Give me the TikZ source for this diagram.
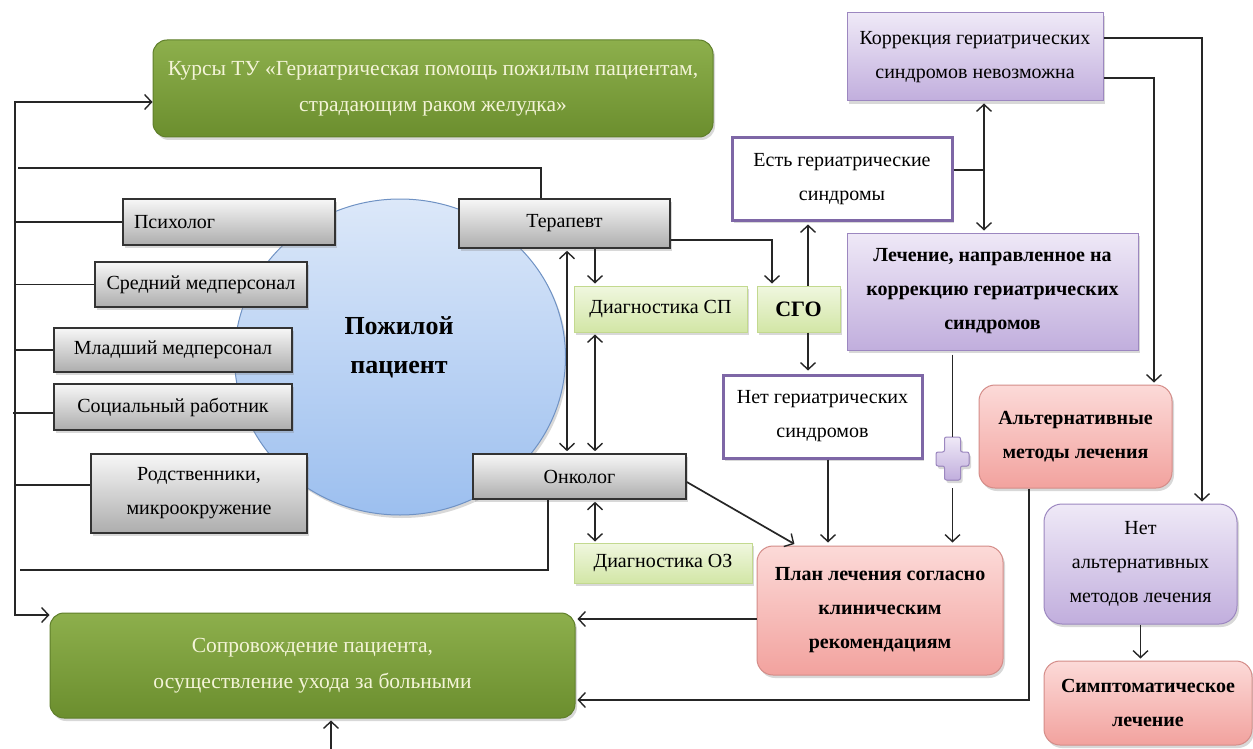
\documentclass[tikz,border=0pt]{standalone}
\usepackage{fontspec}
\setmainfont{Liberation Serif}
\usetikzlibrary{arrows.meta,shapes.geometric,shadows}
\definecolor{gtop}{HTML}{8DAF4C}
\definecolor{gbot}{HTML}{6B8E2E}
\definecolor{gbrd}{HTML}{5F7F2A}
\definecolor{gtxt}{HTML}{F4F4D8}
\definecolor{grtop}{HTML}{F7F7F7}
\definecolor{grbot}{HTML}{ADADAD}
\definecolor{lgtop}{HTML}{F0F7DF}
\definecolor{lgbot}{HTML}{D2E6A6}
\definecolor{lgbrd}{HTML}{C3D98F}
\definecolor{putop}{HTML}{EFE9F7}
\definecolor{pubot}{HTML}{C1AEDD}
\definecolor{pubrd}{HTML}{9C87C0}
\definecolor{pudark}{HTML}{7E67A6}
\definecolor{pktop}{HTML}{FCDAD8}
\definecolor{pkbot}{HTML}{F2A29E}
\definecolor{pkbrd}{HTML}{D48C88}
\definecolor{cbtop}{HTML}{DCE8F9}
\definecolor{cbbot}{HTML}{9CBFEF}
\definecolor{cbbrd}{HTML}{6F92C4}
\newcommand\myfs{\fontsize{20}{34}\selectfont}
\begin{document}
\begin{tikzpicture}[x=1pt,y=-1pt,
  every node/.style={inner sep=0pt, align=center, font=\myfs},
  shad/.style={drop shadow={opacity=0.3, shadow xshift=2pt, shadow yshift=-3pt}},
  greenbox/.style={draw=gbrd, line width=1pt, rounded corners=14pt, top color=gtop, bottom color=gbot, text=gtxt, font=\fontsize{21.5}{36}\selectfont, shad},
  graybox/.style={draw=black!80, line width=1.6pt, top color=grtop, bottom color=grbot, shad},
  lgbox/.style={draw=lgbrd, line width=1pt, top color=lgtop, bottom color=lgbot, shad},
  pubox/.style={draw=pubrd, line width=1pt, top color=putop, bottom color=pubot, shad},
  wpbox/.style={draw=pudark, line width=3pt, fill=white, shad},
  pkbox/.style={draw=pkbrd, line width=1pt, rounded corners=16pt, top color=pktop, bottom color=pkbot, shad},
  ln/.style={draw=black!85, line width=1.7pt},
  arr/.style={ln, -{Straight Barb[length=7pt,width=15pt,line width=1.4pt]}},
  dbl/.style={ln, {Straight Barb[length=7pt,width=15pt,line width=1.4pt]}-{Straight Barb[length=7pt,width=15pt,line width=1.4pt]}}
]
\useasboundingbox (0,0) rectangle (1253,749);
\fill[white] (0,0) rectangle (1253,749);

% patient circle
\node[ellipse, draw=cbbrd, line width=1pt, top color=cbtop, bottom color=cbbot, minimum width=331pt, minimum height=316pt, shad] (pat) at (400,357) {};
\node[font=\fontsize{26}{39}\selectfont\bfseries] (patlbl) at (399,347) {Пожилой\\пациент};

% green boxes
\node[greenbox, minimum width=560pt, minimum height=97pt] (kursy) at (433,88.5) {Курсы ТУ «Гериатрическая помощь пожилым пациентам,\\страдающим раком желудка»};
\node[greenbox, minimum width=525pt, minimum height=105pt] (soprov) at (312.5,665.5) {Сопровождение пациента,\\осуществление ухода за больными};

% gray boxes
\node[graybox, minimum width=212pt, minimum height=46pt, text width=190pt, align=left] (psy) at (229,222) {Психолог};
\node[graybox, minimum width=212pt, minimum height=45pt] (sred) at (201,284.5) {Средний медперсонал};
\node[graybox, minimum width=238pt, minimum height=44pt] (mlad) at (173,350) {Младший медперсонал};
\node[graybox, minimum width=238pt, minimum height=46pt] (soc) at (173,407) {Социальный работник};
\node[graybox, minimum width=216pt, minimum height=79pt] (rod) at (199,493.5) {Родственники,\\микроокружение};
\node[graybox, minimum width=211pt, minimum height=49pt] (ter) at (564.5,223.5) {Терапевт};
\node[graybox, minimum width=213pt, minimum height=45pt] (onk) at (579.5,476.5) {Онколог};

% light green boxes
\node[lgbox, minimum width=173pt, minimum height=46pt] (dsp) at (660.5,309) {Диагностика СП};
\node[lgbox, minimum width=83pt, minimum height=46pt, font=\fontsize{22}{34}\selectfont\bfseries] (sgo) at (798.5,309) {СГО};
\node[lgbox, minimum width=178pt, minimum height=40pt] (dozl) at (663,563) {Диагностика ОЗ};

% purple-bordered white boxes
\node[wpbox, minimum width=220pt, minimum height=82pt] (est) at (842,179) {Есть гериатрические\\синдромы};
\node[wpbox, minimum width=199pt, minimum height=83pt] (net) at (822.5,416.5) {Нет гериатрических\\синдромов};

% purple boxes
\node[pubox, minimum width=256pt, minimum height=88pt] (korr) at (975,57) {Коррекция гериатрических\\синдромов невозможна};
\node[pubox, minimum width=291pt, minimum height=117pt, font=\myfs\bfseries] (lech) at (992.5,291.5) {Лечение, направленное на\\коррекцию гериатрических\\синдромов};
\node[pubox, rounded corners=18pt, minimum width=193pt, minimum height=120pt] (netalt) at (1140.5,564) {Нет\\альтернативных\\методов лечения};

% pink boxes
\node[pkbox, minimum width=193pt, minimum height=103pt, font=\myfs\bfseries] (alt) at (1075.5,436.5) {Альтернативные\\методы лечения};
\node[pkbox, minimum width=246pt, minimum height=129pt, font=\myfs\bfseries] (plan) at (880,610.5) {План лечения согласно\\клиническим\\рекомендациям};
\node[pkbox, minimum width=208pt, minimum height=84pt, font=\myfs\bfseries] (simp) at (1148,703) {Симптоматическое\\лечение};

% plus sign
\node[minimum width=33pt, minimum height=43pt] (plus) at (952.5,458.5) {};
\filldraw[draw=pubrd, line width=1pt, top color=putop, bottom color=pubot, rounded corners=2pt, shad]
  (944.5,437) -- (960.5,437) -- (960.5,452) -- (969,452) -- (969,466) -- (960.5,466) -- (960.5,480)
  -- (944.5,480) -- (944.5,466) -- (936,466) -- (936,452) -- (944.5,452) -- cycle;

% left trunk
\coordinate (L1) at (15,102);
\coordinate (L2) at (15,615);
\draw[dbl] (L1 -| kursy.west) -- (L1) -- (L2) -- (L2 -| soprov.west);
\coordinate (T0) at (18,168);
\coordinate (T1) at (541,168);
\draw[ln] (T0) -- (T1) -- (T1 |- ter.north);
\draw[ln] (L1 |- psy.west) -- (psy.west);
\draw[ln] (L1 |- sred.west) -- (sred.west);
\draw[ln] (L1 |- mlad.west) -- (mlad.west);
\draw[ln] (13,413) -- (soc.west |- 0,413);
\draw[ln] (L1 |- 0,485) -- (rod.west |- 0,485);
\coordinate (O1) at (548,570);
\coordinate (O0) at (20,570);
\draw[ln] (O1 |- onk.south) -- (O1) -- (O0);

% therapist / oncologist
\draw[dbl, shorten <=2pt, shorten >=2pt] (ter.south -| 567,0) -- (onk.north -| 567,0);
\draw[arr, shorten >=2pt] (ter.south -| 595,0) -- (dsp.north -| 595,0);
\draw[dbl, shorten <=2pt, shorten >=2pt] (dsp.south -| 595,0) -- (onk.north -| 595,0);
\draw[dbl, shorten <=2pt, shorten >=1pt] (onk.south -| 595,0) -- (dozl.north -| 595,0);
\draw[arr, shorten >=2pt] (ter.east |- 0,240) -- (772,240) -- (sgo.north -| 772,0);

% CGA branches
\draw[arr, shorten >=3pt] (sgo.north -| 808,0) -- (est.south -| 808,0);
\draw[arr, shorten >=3pt] (sgo.south -| 808,0) -- (net.north -| 808,0);
\draw[ln] (est.east |- 0,170) -- (984,170);
\draw[dbl, shorten <=2pt, shorten >=2pt] (korr.south -| 984,0) -- (lech.north -| 984,0);
\draw[arr, shorten >=2pt] (korr.east |- 0,38) -- (1202,38) -- (netalt.north -| 1202,0);
\draw[arr, shorten >=2pt] (korr.east |- 0,78) -- (1154,78) -- (alt.north -| 1154,0);
\draw[ln, shorten <=4pt] (lech.south -| plus.north) -- (plus.north);
\draw[arr, shorten <=8pt, shorten >=3pt] (plus.south) -- (plan.north -| plus.south);
\draw[arr, shorten >=3pt] (net.south -| 828,0) -- (plan.north -| 828,0);
\draw[arr, shorten >=3pt] (onk.east |- 0,482) -- (plan.north -| 797,0);

% to follow-up care
\draw[arr, shorten >=2pt] (plan.west |- 0,619) -- (soprov.east |- 0,619);
\coordinate (A1) at (1029,700);
\draw[arr, shorten >=2pt] (A1 |- alt.south) -- (A1) -- (soprov.east |- A1);
\draw[arr, shorten >=2pt] (netalt.south) -- (netalt.south |- simp.north);
\coordinate (B0) at (331,749);
\draw[arr, shorten >=2pt] (B0) -- (B0 |- soprov.south);
\end{tikzpicture}
\end{document}
